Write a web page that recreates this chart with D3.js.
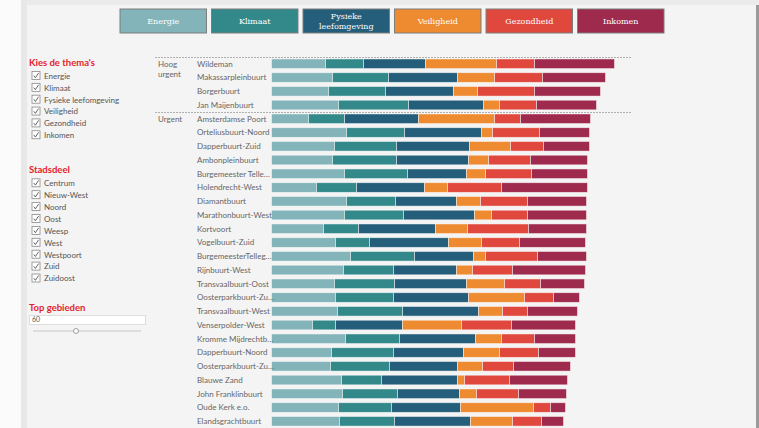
<!DOCTYPE html>
<html>
<head>
<meta charset="utf-8">
<script src="https://cdn.jsdelivr.net/npm/d3@7"></script>
<style>
  html, body { margin: 0; padding: 0; background: #f4f4f4; overflow: hidden; }
</style>
</head>
<body>
<div id="chart"></div>
<script>
// Themes and their colours.
const themes = ["Energie", "Klimaat", "Fysieke leefomgeving", "Veiligheid", "Gezondheid", "Inkomen"];
const themeColors = ["#82b4ba", "#33898a", "#255e7a", "#ee8a30", "#e0483d", "#9e2a4e"];

// Neighbourhoods (as shown, truncated labels included) and urgency group.
const areas = [
  "Wildeman", "Makassarpleinbuurt", "Borgerbuurt", "Jan Maijenbuurt",
  "Amsterdamse Poort", "Orteliusbuurt-Noord", "Dapperbuurt-Zuid", "Ambonpleinbuurt",
  "Burgemeester Telle…", "Holendrecht-West", "Diamantbuurt", "Marathonbuurt-West",
  "Kortvoort", "Vogelbuurt-Zuid", "BurgemeesterTelleg…", "Rijnbuurt-West",
  "Transvaalbuurt-Oost", "Oosterparkbuurt-Zu…", "Transvaalbuurt-West", "Venserpolder-West",
  "Kromme Mijdrechtb…", "Dapperbuurt-Noord", "Oosterparkbuurt-Zu…", "Blauwe Zand",
  "John Franklinbuurt", "Oude Kerk e.o.", "Elandsgrachtbuurt"
];
const urgency = ["Hoog urgent", "Hoog urgent", "Hoog urgent", "Hoog urgent"]
  .concat(Array(23).fill("Urgent"));

// Scores per theme, one value per neighbourhood.
const energie   = [5.4, 6.1, 5.7, 6.7, 3.7, 7.5, 6.3, 6.1, 7.3, 4.5, 7.5, 7.3, 5.2, 6.4, 7.9, 7.2, 6.3, 6.4, 6.6, 4.1, 7.4, 6.0, 5.9, 7.0, 7.1, 6.7, 6.8];
const klimaat   = [3.8, 5.6, 5.7, 7.0, 3.6, 5.8, 6.2, 6.4, 6.3, 4.0, 4.9, 5.9, 3.5, 3.4, 6.4, 5.0, 6.0, 5.8, 6.5, 2.3, 5.4, 6.2, 5.9, 4.0, 5.5, 5.3, 5.5];
const fysiek    = [6.2, 6.9, 6.8, 7.5, 7.4, 7.7, 7.3, 7.2, 5.9, 6.8, 6.1, 7.1, 7.7, 7.9, 5.9, 6.3, 7.2, 7.5, 7.6, 6.7, 7.6, 7.0, 6.8, 7.6, 6.2, 6.9, 7.6];
const veiligheid = [7.1, 3.7, 2.4, 1.6, 7.6, 1.1, 4.1, 2.0, 1.9, 2.3, 2.4, 1.7, 3.2, 3.3, 1.2, 1.6, 3.8, 5.6, 2.4, 5.9, 2.6, 3.6, 2.5, 0.7, 1.7, 7.3, 4.2];
const gezondheid = [3.8, 4.8, 5.7, 3.7, 2.6, 4.7, 3.3, 4.2, 4.6, 5.4, 4.7, 3.6, 6.1, 3.8, 5.2, 4.0, 3.6, 2.9, 2.5, 5.0, 3.3, 3.9, 3.1, 4.5, 4.2, 1.7, 2.9];
const inkomen   = [8.0, 6.3, 6.6, 6.0, 7.0, 5.0, 4.6, 5.7, 5.6, 8.6, 5.9, 5.9, 5.8, 6.6, 4.9, 7.3, 4.4, 2.6, 5.0, 6.4, 4.1, 3.7, 5.7, 5.8, 4.8, 1.5, 2.2];

const stadsdelen = ["Centrum", "Nieuw-West", "Noord", "Oost", "Weesp", "West", "Westpoort", "Zuid", "Zuidoost"];

const width = 759, height = 428;
const red = "#e5222b";

const svg = d3.select("#chart").append("svg")
  .attr("width", width)
  .attr("height", height)
  .style("font-family", "Lato, 'Open Sans', sans-serif");

// Page frame: light margin on the left, grey band on top, shadow on the right.
svg.append("rect").attr("x", 0).attr("y", 0).attr("width", width).attr("height", height).attr("fill", "#f4f4f4");
svg.append("rect").attr("x", 0).attr("y", 0).attr("width", 21).attr("height", height).attr("fill", "#fbfbfb");
svg.append("rect").attr("x", 21).attr("y", 0).attr("width", 6).attr("height", height).attr("fill", "#e8e8e8");
svg.append("rect").attr("x", 27).attr("y", 0).attr("width", width - 27).attr("height", 5).attr("fill", "#ebebeb");
svg.append("rect").attr("x", 756).attr("y", 5).attr("width", 3).attr("height", height).attr("fill", "#9a9a9a");

// Theme buttons on top.
const btnX = d3.scaleBand().domain(themes).range([120, 664]).paddingInner(0.055);
const btn = svg.append("g").selectAll("g").data(themes).join("g")
  .attr("transform", d => `translate(${btnX(d)},9)`);
btn.append("rect")
  .attr("width", btnX.bandwidth())
  .attr("height", 24)
  .attr("fill", (d, i) => themeColors[i])
  .attr("stroke", "#7d7d7d")
  .attr("stroke-width", 1);
btn.each(function(d) {
  const g = d3.select(this);
  const lines = d === "Fysieke leefomgeving" ? ["Fysieke", "leefomgeving"] : [d];
  lines.forEach((t, j) => {
    g.append("text")
      .attr("x", btnX.bandwidth() / 2)
      .attr("y", 12 + (j - (lines.length - 1) / 2) * 9.5)
      .attr("dy", "0.35em")
      .attr("text-anchor", "middle")
      .attr("font-family", "'DejaVu Serif', serif")
      .attr("font-size", "8px")
      .attr("fill", "#ffffff")
      .text(t);
  });
});

// Left filter panel.
const side = svg.append("g");
function checklist(title, items, titleY, firstY, step) {
  side.append("text")
    .attr("x", 29).attr("y", titleY)
    .attr("dy", "0.35em")
    .attr("font-size", "9.5px")
    .attr("font-weight", "bold")
    .attr("fill", red)
    .text(title);
  items.forEach((t, i) => {
    const y = firstY + i * step;
    side.append("rect")
      .attr("x", 32).attr("y", y - 4.5)
      .attr("width", 8).attr("height", 8)
      .attr("fill", "#ffffff")
      .attr("stroke", "#8a8a8a")
      .attr("stroke-width", 0.8);
    side.append("path")
      .attr("d", `M33.8,${y - 0.3} L35.4,${y + 1.8} L38.6,${y - 3}`)
      .attr("fill", "none")
      .attr("stroke", "#555")
      .attr("stroke-width", 0.9);
    side.append("text")
      .attr("x", 44).attr("y", y)
      .attr("dy", "0.35em")
      .attr("font-size", "8px")
      .attr("fill", "#555555")
      .text(t);
  });
}
checklist("Kies de thema's", themes, 63, 76, 11.85);
checklist("Stadsdeel", stadsdelen, 170, 183.3, 11.9);

side.append("text")
  .attr("x", 29).attr("y", 307.5)
  .attr("dy", "0.35em")
  .attr("font-size", "9.5px")
  .attr("font-weight", "bold")
  .attr("fill", red)
  .text("Top gebieden");
side.append("rect")
  .attr("x", 29.5).attr("y", 315.5)
  .attr("width", 116).attr("height", 9)
  .attr("fill", "#ffffff")
  .attr("stroke", "#dddddd");
side.append("text")
  .attr("x", 32).attr("y", 320)
  .attr("dy", "0.35em")
  .attr("font-size", "7px")
  .attr("fill", "#555555")
  .text("60");
side.append("line")
  .attr("x1", 33).attr("x2", 141).attr("y1", 331).attr("y2", 331)
  .attr("stroke", "#dddddd").attr("stroke-width", 2);
side.append("circle")
  .attr("cx", 76).attr("cy", 331).attr("r", 2.5)
  .attr("fill", "#ffffff").attr("stroke", "#888").attr("stroke-width", 0.8);

// Stacked bar chart.
const rows = areas.map((a, i) => ({
  i, area: a, urgency: urgency[i],
  "Energie": energie[i], "Klimaat": klimaat[i], "Fysieke leefomgeving": fysiek[i],
  "Veiligheid": veiligheid[i], "Gezondheid": gezondheid[i], "Inkomen": inkomen[i]
}));
const stack = d3.stack().keys(themes)(rows);

const x = d3.scaleLinear().domain([0, 36]).range([271.5, 631.5]);
const y = d3.scaleBand().domain(d3.range(areas.length))
  .range([56.9, 56.9 + 13.75 * areas.length])
  .paddingInner(0.3).paddingOuter(0.15);
const color = d3.scaleOrdinal().domain(themes).range(themeColors);

const chart = svg.append("g");
chart.selectAll("g.series").data(stack).join("g")
  .attr("class", "series")
  .attr("fill", d => color(d.key))
  .selectAll("rect").data(d => d).join("rect")
  .attr("x", d => x(d[0]))
  .attr("y", d => y(d.data.i))
  .attr("width", d => x(d[1]) - x(d[0]))
  .attr("height", y.bandwidth())
  .attr("stroke", "#ffffff")
  .attr("stroke-opacity", 0.6)
  .attr("stroke-width", 0.8);

// Row labels.
chart.selectAll("text.area").data(rows).join("text")
  .attr("class", "area")
  .attr("x", 197)
  .attr("y", d => y(d.i) + y.bandwidth() / 2)
  .attr("dy", "0.35em")
  .attr("font-size", "8px")
  .attr("fill", "#666666")
  .text(d => d.area);

// Group separators and group labels.
const groups = d3.groups(rows, d => d.urgency);
groups.forEach(([name, list]) => {
  const first = list[0].i;
  const lineY = Math.round(y(first) - y.step() * 0.17) + 0.5;
  chart.append("line")
    .attr("x1", 155).attr("x2", 632)
    .attr("y1", lineY).attr("y2", lineY)
    .attr("stroke", "#b0b0b0")
    .attr("stroke-dasharray", "2,1");
  const words = name === "Hoog urgent" ? ["Hoog", "urgent"] : [name];
  words.forEach((w, j) => {
    chart.append("text")
      .attr("x", 158)
      .attr("y", y(first) + y.bandwidth() / 2 + j * 10)
      .attr("dy", "0.35em")
      .attr("font-size", "8px")
      .attr("fill", "#666666")
      .text(w);
  });
});
</script>
</body>
</html>
